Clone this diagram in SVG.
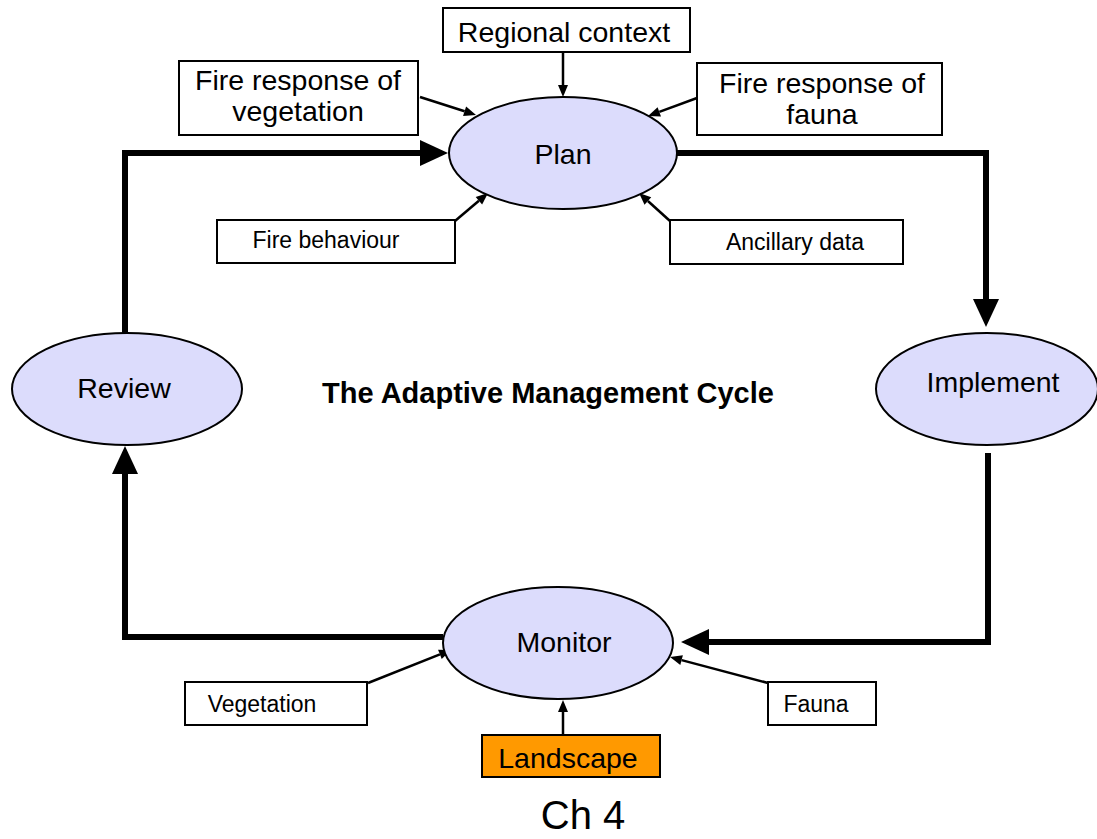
<svg xmlns="http://www.w3.org/2000/svg" width="1097" height="839" viewBox="0 0 1097 839">
<style>
.box{fill:#fff;stroke:#000;stroke-width:2}
.ell{fill:#dcdcfc;stroke:#000;stroke-width:2}
.big{font-family:"Liberation Sans",Arial,sans-serif;font-size:28.5px;fill:#000;text-anchor:middle}
.sm{font-family:"Liberation Sans",Arial,sans-serif;font-size:23px;fill:#000;text-anchor:middle}
.thin{fill:none;stroke:#000;stroke-width:2.5;marker-end:url(#ah)}
.thick{fill:none;stroke:#000;stroke-width:6;stroke-linejoin:miter;marker-end:url(#AH)}
</style>
<defs>
<marker id="ah" markerUnits="userSpaceOnUse" markerWidth="14" markerHeight="12" refX="0" refY="5" orient="auto" overflow="visible"><path d="M0,0 L12,5 L0,10 z" fill="#000"/></marker>
<marker id="AH" markerUnits="userSpaceOnUse" markerWidth="30" markerHeight="28" refX="0" refY="13" orient="auto" overflow="visible"><path d="M0,0 L28,13 L0,26 z" fill="#000"/></marker>
</defs>
<rect width="1097" height="839" fill="#fff"/>
<g id="connectors">
<polyline class="thick" points="125,333 125,153 420,153"/>
<polyline class="thick" points="677,153 986,153 986,299"/>
<polyline class="thick" points="988,453 988,642 709,642"/>
<polyline class="thick" points="443,637 125,637 125,474"/>
<line class="thin" x1="563" y1="52" x2="563" y2="85"/>
<line class="thin" x1="420" y1="97" x2="464.6" y2="111.3"/>
<line class="thin" x1="697" y1="98" x2="659.3" y2="111.9"/>
<line class="thin" x1="455" y1="221" x2="478.9" y2="200.8"/>
<line class="thin" x1="670" y1="221" x2="647.9" y2="201"/>
<line class="thin" x1="368" y1="683" x2="439.9" y2="654.4"/>
<line class="thin" x1="768" y1="683" x2="681.6" y2="660.1"/>
<line class="thin" x1="563" y1="735" x2="563" y2="712"/>
</g>
<g id="plan"><ellipse class="ell" cx="563" cy="153" rx="114" ry="56"/><text class="big" x="563" y="164">Plan</text></g>
<g id="review"><ellipse class="ell" cx="127" cy="389" rx="115" ry="56"/><text class="big" x="124" y="398">Review</text></g>
<g id="implement"><ellipse class="ell" cx="987" cy="389" rx="111" ry="56"/><text class="big" x="993" y="392">Implement</text></g>
<g id="monitor"><ellipse class="ell" cx="558" cy="643" rx="115" ry="56"/><text class="big" x="564" y="652">Monitor</text></g>
<g id="regional"><rect class="box" x="443" y="8" width="247" height="44"/><text class="big" x="564" y="42">Regional context</text></g>
<g id="fireveg"><rect class="box" x="179" y="61" width="239" height="74"/><text class="big" x="298" y="90">Fire response of</text><text class="big" x="298" y="121">vegetation</text></g>
<g id="firefauna"><rect class="box" x="697" y="63" width="245" height="72"/><text class="big" x="822" y="93">Fire response of</text><text class="big" x="822" y="124">fauna</text></g>
<g id="firebeh"><rect class="box" x="217" y="220" width="238" height="43"/><text class="sm" x="326" y="248">Fire behaviour</text></g>
<g id="ancillary"><rect class="box" x="670" y="220" width="233" height="44"/><text class="sm" x="795" y="250">Ancillary data</text></g>
<g id="vegetation"><rect class="box" x="185" y="682" width="182" height="43"/><text class="sm" x="262" y="712">Vegetation</text></g>
<g id="fauna"><rect class="box" x="768" y="682" width="108" height="43"/><text class="sm" x="816" y="712">Fauna</text></g>
<g id="landscape"><rect x="482" y="735" width="178" height="42" fill="#ff9900" stroke="#000" stroke-width="2"/><text class="big" x="568" y="768">Landscape</text></g>
<g id="title"><text x="548" y="403" font-family="Liberation Sans,Arial,sans-serif" font-size="29" font-weight="bold" text-anchor="middle">The Adaptive Management Cycle</text></g>
<g id="chapter"><text x="583" y="829" font-family="Liberation Sans,Arial,sans-serif" font-size="40" text-anchor="middle">Ch 4</text></g>
</svg>
